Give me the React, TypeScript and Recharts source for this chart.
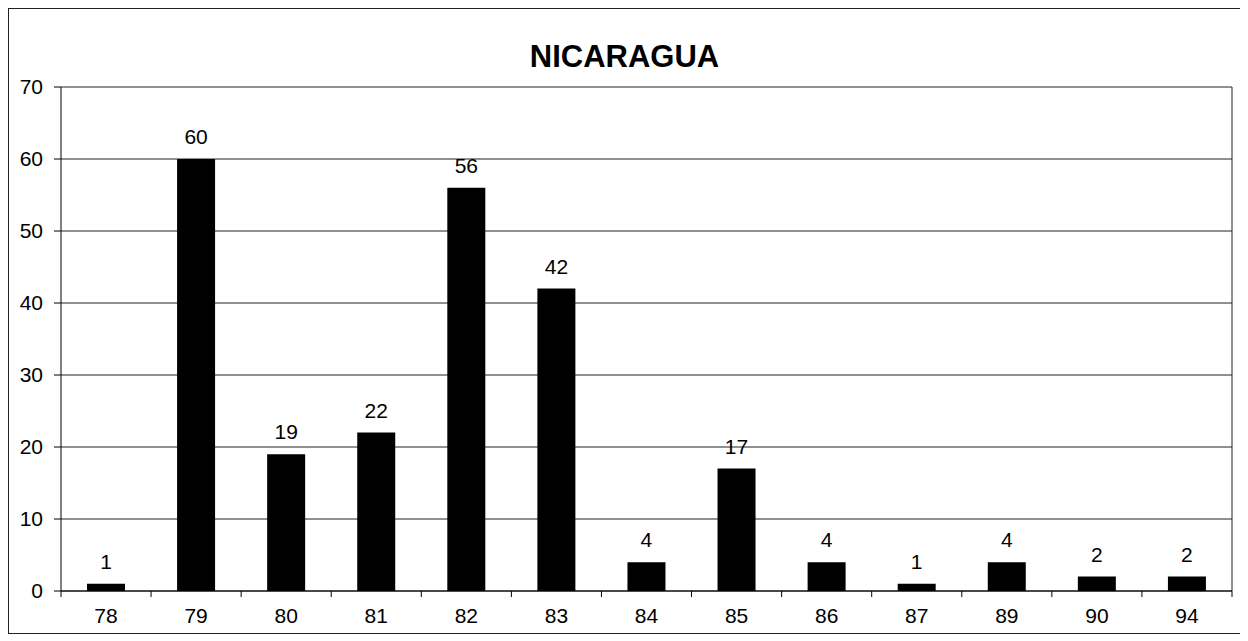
import { BarChart, Bar, XAxis, YAxis, CartesianGrid, LabelList } from 'recharts'

// años y número de casos
const years = ['78', '79', '80', '81', '82', '83', '84', '85', '86', '87', '89', '90', '94']
const counts = [1, 60, 19, 22, 56, 42, 4, 17, 4, 1, 4, 2, 2]
const yTicks = [0, 10, 20, 30, 40, 50, 60, 70]

const data = years.map((y, i) => ({ year: y, value: counts[i] }))

const CHART_W = 1231
const CHART_H = 624
const Y_AXIS_W = 52
const X_AXIS_H = 42
const MARGIN = { top: 78, right: 8, bottom: 0, left: 0 }
const PLOT_W = CHART_W - MARGIN.left - MARGIN.right - Y_AXIS_W
const PLOT_RIGHT = CHART_W - MARGIN.right
const AXIS_Y = CHART_H - MARGIN.bottom - X_AXIS_H
const FONT = '"Liberation Sans", Arial, sans-serif'

function XTick(props: any) {
  const { x, y, payload, index } = props
  const half = payload && payload.offset ? payload.offset : PLOT_W / years.length / 2
  return (
    <g>
      <line x1={x - half} x2={x - half} y1={AXIS_Y} y2={AXIS_Y + 6} stroke="#000" />
      {index === years.length - 1 && (
        <line x1={x + half} x2={x + half} y1={AXIS_Y} y2={AXIS_Y + 6} stroke="#000" />
      )}
      <text x={x} y={y} dy="0.71em" textAnchor="middle" fontSize={21} fontFamily={FONT} fill="#000">
        {payload.value}
      </text>
    </g>
  )
}

export default function App() {
  return (
    <div
      style={{
        position: 'relative',
        width: CHART_W,
        height: CHART_H,
        border: '1px solid #222',
        background: '#fff',
      }}
    >
      <div
        style={{
          position: 'absolute',
          left: 0,
          width: CHART_W,
          top: 30,
          textAlign: 'center',
          fontFamily: FONT,
          fontWeight: 'bold',
          fontSize: 31,
          lineHeight: '36px',
          color: '#000',
        }}
      >
        NICARAGUA
      </div>
      <BarChart width={CHART_W} height={CHART_H} data={data} margin={MARGIN} barSize={38}>
        <CartesianGrid
          vertical={true}
          verticalPoints={[PLOT_RIGHT]}
          stroke="#222"
          strokeWidth={1}
        />
        <XAxis
          dataKey="year"
          height={X_AXIS_H}
          axisLine={{ stroke: '#000' }}
          tickLine={{ stroke: 'none' }}
          tickSize={6}
          tickMargin={11}
          tick={<XTick />}
          interval={0}
        />
        <YAxis
          width={Y_AXIS_W}
          domain={[0, 70]}
          ticks={yTicks}
          interval={0}
          axisLine={{ stroke: '#000' }}
          tickLine={{ stroke: '#000' }}
          tickSize={7}
          tickMargin={11}
          tick={{ fontSize: 21, fontFamily: FONT, fill: '#000' }}
        />
        <Bar dataKey="value" fill="#000" isAnimationActive={false}>
          <LabelList
            dataKey="value"
            position="top"
            offset={15}
            style={{ fontSize: 21, fontFamily: FONT, fill: '#000' }}
          />
        </Bar>
      </BarChart>
    </div>
  )
}
